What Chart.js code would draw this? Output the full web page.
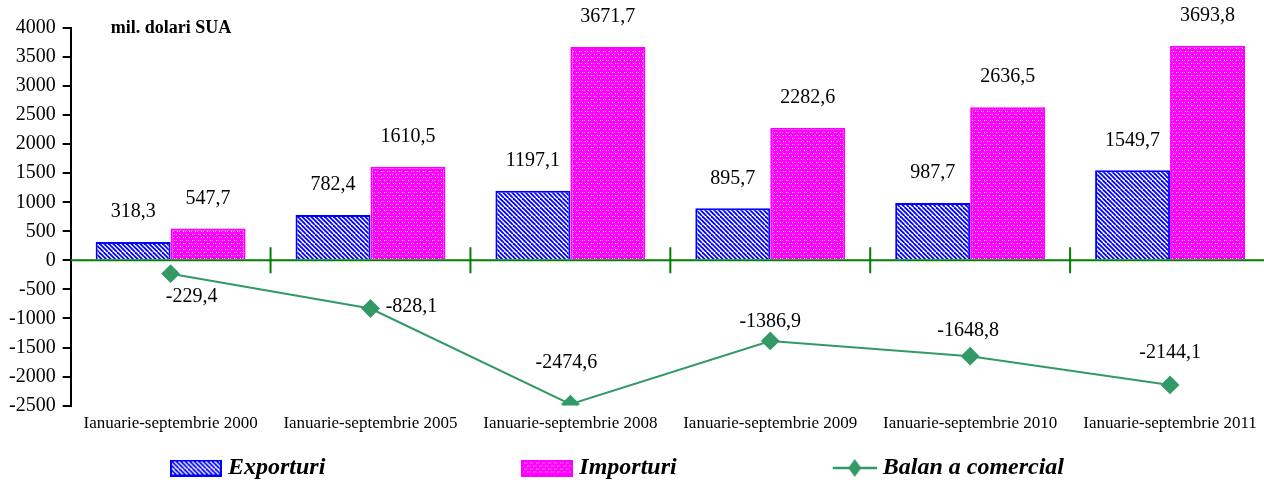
<!DOCTYPE html>
<html>
<head>
<meta charset="utf-8">
<script src="https://cdn.jsdelivr.net/npm/chart.js@4/dist/chart.umd.min.js"></script>
<style>
  html, body { margin: 0; padding: 0; background: #ffffff; overflow: hidden; }
  #wrap { width: 1264px; height: 484px; overflow: hidden; }
</style>
</head>
<body>
<div id="wrap"><canvas id="chart" width="1280" height="484"></canvas></div>
<script>
let categories = [
  "Ianuarie-septembrie 2000",
  "Ianuarie-septembrie 2005",
  "Ianuarie-septembrie 2008",
  "Ianuarie-septembrie 2009",
  "Ianuarie-septembrie 2010",
  "Ianuarie-septembrie 2011",
];
let exporturi = [318.3, 782.4, 1197.1, 895.7, 987.7, 1549.7];
let importuri = [547.7, 1610.5, 3671.7, 2282.6, 2636.5, 3693.8];
let balanta = [-229.4, -828.1, -2474.6, -1386.9, -1648.8, -2144.1];

let series_names = ["Exporturi", "Importuri", "Balan a comercial"];
let unit_label = "mil. dolari SUA";

// where the balance labels sit relative to their point (as in the original)
let balance_label_offsets = [
  [21, 23],
  [41, -2],
  [-4, -41],
  [0, -19],
  [-2, -25],
  [0, -32],
];

let color_export = "#0000ff";
let color_import = "#ff00ff";
let color_balance = "#339966";
let color_axis_green = "#008000";
let serif = "'Liberation Serif', 'Times New Roman', serif";

function stripePattern() {
  let c = document.createElement("canvas");
  c.width = 9;
  c.height = 9;
  let ctx = c.getContext("2d");
  ctx.fillStyle = "#ffffff";
  ctx.fillRect(0, 0, 9, 9);
  ctx.strokeStyle = color_export;
  ctx.lineWidth = 1.8;
  for (let k = -3; k <= 3; k++) {
    ctx.beginPath();
    ctx.moveTo(k * 4.5, 0);
    ctx.lineTo(k * 4.5 + 9, 9);
    ctx.stroke();
  }
  return ctx.createPattern(c, "repeat");
}

function meshPattern() {
  let c = document.createElement("canvas");
  c.width = 6;
  c.height = 6;
  let ctx = c.getContext("2d");
  ctx.fillStyle = color_import;
  ctx.fillRect(0, 0, 6, 6);
  ctx.fillStyle = "#ffffff";
  ctx.fillRect(0, 0, 1, 1);
  ctx.fillRect(3, 3, 1, 1);
  ctx.fillStyle = "#ff99ff";
  ctx.fillRect(2, 0, 1, 1);
  ctx.fillRect(5, 3, 1, 1);
  return ctx.createPattern(c, "repeat");
}

let fill_export = stripePattern();
let fill_import = meshPattern();

function boxIcon(fill, border) {
  let c = document.createElement("canvas");
  c.width = 52;
  c.height = 17;
  let ctx = c.getContext("2d");
  ctx.fillStyle = fill;
  ctx.fillRect(0, 0, 52, 17);
  ctx.strokeStyle = border;
  ctx.lineWidth = 2;
  ctx.strokeRect(1, 1, 50, 15);
  return c;
}

function lineIcon() {
  let c = document.createElement("canvas");
  c.width = 52;
  c.height = 22;
  let ctx = c.getContext("2d");
  ctx.strokeStyle = color_balance;
  ctx.lineWidth = 2.5;
  ctx.beginPath();
  ctx.moveTo(8, 11);
  ctx.lineTo(52, 11);
  ctx.stroke();
  ctx.fillStyle = color_balance;
  ctx.beginPath();
  ctx.moveTo(30, 2);
  ctx.lineTo(36.5, 11);
  ctx.lineTo(30, 20);
  ctx.lineTo(23.5, 11);
  ctx.closePath();
  ctx.fill();
  return c;
}

let legend_icons = [boxIcon(fill_export, color_export), boxIcon(fill_import, color_import), lineIcon()];
let legend_trailing = [30, 22, 7];

let extrasPlugin = {
  id: "extras",
  afterDatasetsDraw(chart) {
    let ctx = chart.ctx;
    let x = chart.scales.x;
    let y = chart.scales.y;
    let area = chart.chartArea;
    let zero = y.getPixelForValue(0);

    ctx.save();
    // green zero axis with category separators
    ctx.strokeStyle = color_axis_green;
    ctx.lineWidth = 2;
    ctx.beginPath();
    ctx.moveTo(area.left, zero);
    ctx.lineTo(area.right, zero);
    for (let i = 1; i < categories.length; i++) {
      let bx = (x.getPixelForValue(i - 1) + x.getPixelForValue(i)) / 2;
      ctx.moveTo(bx, zero - 13);
      ctx.lineTo(bx, zero + 13);
    }
    ctx.stroke();

    // value labels
    ctx.fillStyle = "#000000";
    ctx.font = "20px " + serif;
    ctx.textAlign = "center";
    ctx.textBaseline = "middle";
    [0, 1].forEach((d) => {
      let meta = chart.getDatasetMeta(d);
      let values = chart.data.datasets[d].data;
      meta.data.forEach((bar, i) => {
        ctx.fillText(values[i].toFixed(1).replace(".", ","), bar.x, bar.y - 30);
      });
    });
    let lineMeta = chart.getDatasetMeta(2);
    lineMeta.data.forEach((pt, i) => {
      let off = balance_label_offsets[i];
      ctx.fillText(balanta[i].toFixed(1).replace(".", ","), pt.x + off[0], pt.y + off[1]);
    });

    // unit label
    ctx.font = "bold 18px " + serif;
    ctx.textAlign = "left";
    ctx.fillText(unit_label, area.left + 40, area.top);
    ctx.restore();
  },
};

let config = {
  data: {
    labels: categories,
    datasets: [
      {
        type: "bar",
        label: series_names[0],
        data: exporturi,
        backgroundColor: fill_export,
        borderColor: color_export,
        borderWidth: 2,
        borderSkipped: "start",
        categoryPercentage: 0.75,
        barPercentage: 1,
        order: 2,
      },
      {
        type: "bar",
        label: series_names[1],
        data: importuri,
        backgroundColor: fill_import,
        borderColor: color_import,
        borderWidth: 2,
        borderSkipped: "start",
        categoryPercentage: 0.75,
        barPercentage: 1,
        order: 2,
      },
      {
        type: "line",
        label: series_names[2],
        data: balanta,
        borderColor: color_balance,
        backgroundColor: color_balance,
        borderWidth: 2,
        pointStyle: "rectRot",
        pointRadius: 8,
        pointHoverRadius: 8,
        tension: 0,
        order: 1,
      },
    ],
  },
  options: {
    responsive: false,
    animation: false,
    devicePixelRatio: 1,
    layout: {
      padding: { top: 28, left: 2, right: 0, bottom: -6 },
    },
    plugins: {
      tooltip: { enabled: false },
      legend: {
        position: "bottom",
        labels: {
          usePointStyle: true,
          pointStyleWidth: 40,
          padding: 22,
          color: "#000000",
          font: { family: serif, size: 24, style: "italic", weight: "bold" },
          generateLabels(chart) {
            return series_names.map((name, i) => ({
              text: name + " ".repeat(legend_trailing[i]),
              pointStyle: legend_icons[i],
              fillStyle: "transparent",
              strokeStyle: "transparent",
              lineWidth: 0,
              datasetIndex: i,
              hidden: false,
            }));
          },
        },
      },
    },
    scales: {
      x: {
        offset: true,
        grid: { display: false },
        border: { display: false },
        ticks: {
          color: "#000000",
          padding: 0,
          maxRotation: 0,
          autoSkip: false,
          font: { family: serif, size: 17 },
        },
      },
      y: {
        min: -2500,
        max: 4000,
        grid: {
          drawOnChartArea: false,
          color: "#000000",
          lineWidth: 2,
          tickLength: 8,
        },
        border: { color: "#000000", width: 2 },
        ticks: {
          stepSize: 500,
          padding: 7,
          color: "#000000",
          font: { family: serif, size: 20 },
          callback: (value) => String(value),
        },
      },
    },
  },
  plugins: [extrasPlugin],
};

let chart = new Chart(document.getElementById("chart"), config);
</script>
</body>
</html>
